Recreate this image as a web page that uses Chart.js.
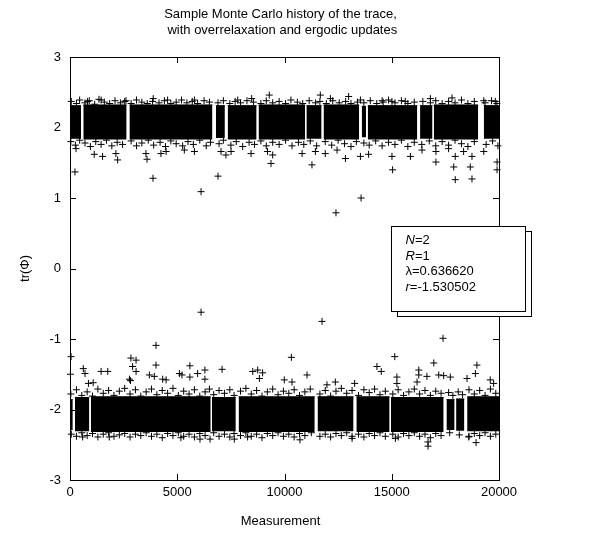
<!DOCTYPE html>
<html>
<head>
<meta charset="utf-8">
<script src="https://cdn.jsdelivr.net/npm/chart.js@4.4.1/dist/chart.umd.min.js"></script>
<style>
  html, body { margin: 0; padding: 0; background: #fff; }
  canvas { display: block; }
</style>
</head>
<body>
<canvas id="trace" width="614" height="536"></canvas>
<script>
// Monte Carlo history of tr(Phi): the chain sits in one of two bands (+2 / -2)
// and hops between them; runs give the dense part of each band, points the rest.

const xTicks = [0, 5000, 10000, 15000, 20000];
const yTicks = [-3, -2, -1, 0, 1, 2, 3];

// [first measurement, last measurement, low, high] of the dense part of each band
const upperRuns = [
    [0, 515, 1.84, 2.31], [620, 2640, 1.83, 2.32], [2770, 6640, 1.83, 2.32],
    [6800, 7220, 1.85, 2.31], [7350, 8700, 1.83, 2.31], [8790, 10960, 1.83, 2.32],
    [11020, 11730, 1.84, 2.31], [11820, 13480, 1.83, 2.32], [13600, 13800, 1.86, 2.30],
    [13880, 16190, 1.83, 2.31], [16320, 16900, 1.84, 2.31], [16960, 19030, 1.83, 2.32],
    [19290, 20000, 1.84, 2.31]
];
const lowerRuns = [
    [0, 130, -2.29, -1.86], [230, 900, -2.31, -1.83], [970, 6560, -2.32, -1.82],
    [6620, 7730, -2.31, -1.83], [7860, 11410, -2.32, -1.82], [11540, 13220, -2.31, -1.82],
    [13350, 14900, -2.32, -1.82], [14960, 17420, -2.32, -1.83], [17550, 17930, -2.29, -1.86],
    [18000, 18385, -2.30, -1.85], [18515, 20000, -2.31, -1.82]
];

// ragged crosses along the edges of the bands
const upperEdge = [
    [60, 2.37], [300, 2.34], [450, 2.39], [700, 2.35], [900, 2.38], [1150, 2.33], [1350, 2.40], [1600, 2.36],
    [1850, 2.34], [2100, 2.38], [2350, 2.35], [2550, 2.37], [2850, 2.34], [3100, 2.39], [3350, 2.36], [3600, 2.34],
    [3850, 2.37], [4150, 2.35], [4400, 2.38], [4700, 2.34], [4950, 2.36], [5200, 2.39], [5450, 2.35], [5700, 2.37],
    [5950, 2.34], [6250, 2.38], [6500, 2.36], [6900, 2.35], [7150, 2.38], [7450, 2.34], [7700, 2.37], [7950, 2.35],
    [8250, 2.38], [8550, 2.36], [8900, 2.34], [9150, 2.38], [9450, 2.35], [9750, 2.37], [10050, 2.34], [10300, 2.39],
    [10600, 2.36], [10850, 2.34], [11150, 2.38], [11450, 2.35], [11650, 2.37], [11950, 2.34], [12250, 2.38],
    [12550, 2.35], [12850, 2.37], [13100, 2.34], [13400, 2.36], [13700, 2.35], [14000, 2.38], [14300, 2.34],
    [14600, 2.36], [14850, 2.39], [15150, 2.35], [15450, 2.38], [15750, 2.34], [16050, 2.36], [16450, 2.37],
    [16800, 2.35], [17050, 2.38], [17350, 2.34], [17650, 2.37], [17950, 2.35], [18250, 2.39], [18550, 2.34],
    [18850, 2.37], [19350, 2.35], [19650, 2.38], [19900, 2.34],
    [40, 1.80], [250, 1.75], [450, 1.82], [700, 1.78], [950, 1.73], [1200, 1.80], [1450, 1.76], [1700, 1.82],
    [1950, 1.74], [2200, 1.79], [2450, 1.76], [2850, 1.81], [3100, 1.74], [3350, 1.78], [3650, 1.82], [3900, 1.75],
    [4200, 1.79], [4450, 1.73], [4700, 1.81], [4950, 1.77], [5250, 1.74], [5500, 1.80], [5750, 1.76], [6050, 1.82],
    [6350, 1.74], [6550, 1.79], [6950, 1.77], [7150, 1.82], [7500, 1.75], [7750, 1.80], [8050, 1.73], [8350, 1.79],
    [8600, 1.76], [8900, 1.81], [9150, 1.74], [9450, 1.79], [9750, 1.76], [10050, 1.82], [10350, 1.74], [10650, 1.79],
    [10900, 1.76], [11200, 1.81], [11500, 1.74], [11900, 1.80], [12200, 1.75], [12500, 1.82], [12800, 1.77],
    [13100, 1.73], [13350, 1.80], [13700, 1.78], [13950, 1.75], [14250, 1.81], [14550, 1.74], [14850, 1.79],
    [15150, 1.76], [15450, 1.82], [15750, 1.73], [16050, 1.79], [16400, 1.76], [16750, 1.81], [17050, 1.74],
    [17350, 1.80], [17650, 1.75], [17950, 1.82], [18250, 1.77], [18550, 1.73], [18850, 1.80], [19400, 1.76],
    [19700, 1.81], [19950, 1.74]
];
const lowerEdge = [
    [40, -1.78], [300, -1.72], [550, -1.80], [800, -1.75], [1050, -1.81], [1300, -1.71], [1550, -1.77], [1800, -1.73],
    [2050, -1.80], [2300, -1.74], [2550, -1.70], [2800, -1.78], [3050, -1.72], [3300, -1.81], [3550, -1.75],
    [3800, -1.71], [4050, -1.79], [4300, -1.73], [4550, -1.77], [4800, -1.70], [5050, -1.80], [5300, -1.74],
    [5550, -1.78], [5800, -1.72], [6050, -1.81], [6300, -1.75], [6500, -1.71], [6700, -1.79], [6950, -1.73],
    [7200, -1.77], [7450, -1.72], [7650, -1.80], [7950, -1.74], [8200, -1.70], [8450, -1.78], [8700, -1.73],
    [8950, -1.81], [9200, -1.75], [9450, -1.71], [9700, -1.79], [9950, -1.74], [10200, -1.77], [10450, -1.72],
    [10700, -1.80], [10950, -1.75], [11200, -1.71], [11650, -1.78], [11900, -1.73], [12150, -1.81], [12400, -1.74],
    [12650, -1.70], [12900, -1.77], [13150, -1.73], [13450, -1.80], [13700, -1.72], [13950, -1.76], [14200, -1.71],
    [14450, -1.79], [14700, -1.74], [15050, -1.78], [15300, -1.72], [15550, -1.80], [15800, -1.75], [16050, -1.71],
    [16300, -1.78], [16550, -1.73], [16800, -1.80], [17050, -1.74], [17300, -1.77], [17650, -1.76], [17850, -1.80],
    [18100, -1.75], [18300, -1.79], [18600, -1.72], [18850, -1.78], [19100, -1.73], [19350, -1.80], [19600, -1.71],
    [19850, -1.77],
    [60, -2.35], [300, -2.38], [550, -2.33], [800, -2.37], [1050, -2.34], [1300, -2.39], [1550, -2.35], [1800, -2.33],
    [2050, -2.38], [2300, -2.36], [2550, -2.34], [2800, -2.39], [3050, -2.35], [3300, -2.37], [3550, -2.33],
    [3800, -2.38], [4050, -2.35], [4300, -2.40], [4550, -2.34], [4800, -2.37], [5050, -2.33], [5300, -2.38],
    [5550, -2.35], [5800, -2.39], [6050, -2.34], [6300, -2.37], [6700, -2.33], [6950, -2.38], [7200, -2.35],
    [7450, -2.39], [7650, -2.34], [7950, -2.37], [8200, -2.33], [8450, -2.38], [8700, -2.35], [8950, -2.40],
    [9200, -2.34], [9450, -2.37], [9700, -2.33], [9950, -2.38], [10200, -2.35], [10450, -2.39], [10700, -2.34],
    [10950, -2.37], [11250, -2.33], [11650, -2.38], [11900, -2.35], [12150, -2.39], [12400, -2.34], [12650, -2.37],
    [12900, -2.33], [13150, -2.38], [13450, -2.35], [13700, -2.39], [13950, -2.34], [14200, -2.37], [14450, -2.33],
    [14700, -2.38], [15050, -2.35], [15300, -2.39], [15550, -2.34], [15800, -2.37], [16050, -2.33], [16300, -2.38],
    [16550, -2.35], [16800, -2.40], [17050, -2.34], [17300, -2.37], [17700, -2.33], [18150, -2.36], [18600, -2.38],
    [18850, -2.34], [19100, -2.37], [19350, -2.33], [19600, -2.38], [19850, -2.35]
];

// isolated measurements away from the dense bands
const strays = [
    // mid-range tunnelling events
    [233, 1.37], [3870, 1.28], [6110, 1.09], [6900, 1.31], [12400, 0.79], [13570, 1.00],
    [6110, -0.62], [11750, -0.75], [17390, -0.99], [4010, -1.09], [50, -1.25],
    // above the upper band
    [820, 2.37], [1450, 2.39], [2610, 2.38], [3880, 2.41], [4550, 2.39], [5800, 2.39], [7820, 2.39],
    [8470, 2.41], [9290, 2.46], [11670, 2.46], [12140, 2.41], [12990, 2.44], [13540, 2.39], [14550, 2.38],
    [15010, 2.37], [15630, 2.37], [16800, 2.41], [17810, 2.42], [19290, 2.38], [19830, 2.37],
    // below the upper band
    [280, 1.70], [1130, 1.62], [1520, 1.59], [2140, 1.63], [2220, 1.54], [3540, 1.63], [3590, 1.55],
    [4240, 1.63], [4480, 1.66], [5330, 1.68], [5800, 1.66], [7040, 1.66], [7270, 1.61], [7510, 1.66],
    [8440, 1.63], [9210, 1.66], [9370, 1.49], [9450, 1.61], [10820, 1.63], [11280, 1.47], [11440, 1.66],
    [11900, 1.63], [12450, 1.68], [12840, 1.56], [13540, 1.59], [13920, 1.62], [15010, 1.59], [15040, 1.40],
    [15870, 1.59], [16410, 1.68], [17060, 1.66], [17060, 1.51], [17650, 1.70], [17960, 1.59], [17890, 1.44],
    [17960, 1.26], [18350, 1.66], [18740, 1.59], [18660, 1.44], [18740, 1.27], [19290, 1.66], [19910, 1.51],
    [19910, 1.40],
    // above the lower band
    [20, -1.50], [620, -1.42], [700, -1.49], [860, -1.63], [1080, -1.62], [1450, -1.46], [1760, -1.46],
    [2840, -1.27], [3080, -1.30], [2920, -1.39], [3080, -1.46], [2770, -1.57], [2820, -1.59], [4010, -1.37],
    [3700, -1.51], [3930, -1.53], [4320, -1.57], [4480, -1.58], [5100, -1.49], [5220, -1.51], [5590, -1.38],
    [5590, -1.54], [5950, -1.49], [6290, -1.44], [6290, -1.57], [7090, -1.43], [8520, -1.46], [8750, -1.44],
    [8980, -1.48], [8830, -1.56], [9990, -1.58], [10320, -1.26], [11050, -1.51], [10350, -1.61],
    [12370, -1.61], [11980, -1.65], [13270, -1.63], [14310, -1.39], [14510, -1.46], [15140, -1.25],
    [15240, -1.54], [15240, -1.63], [16260, -1.44], [16260, -1.51], [16180, -1.61], [16640, -1.53],
    [16960, -1.34], [17190, -1.51], [17420, -1.52], [17730, -1.54], [18510, -1.56], [18900, -1.49],
    [18970, -1.37], [19590, -1.58], [19750, -1.63],
    // below the lower band
    [590, -2.39], [1830, -2.39], [5170, -2.40], [6060, -2.42], [6530, -2.42], [7660, -2.42], [8280, -2.39],
    [10720, -2.43], [13150, -2.41], [15170, -2.41], [16690, -2.46], [16690, -2.52], [18590, -2.39],
    [18930, -2.47]
];

const FONT = "'Liberation Sans', Arial, Helvetica, sans-serif";

function runDataset(run) {
    const [first, last, low, high] = run;
    return {
        type: 'line',
        data: [{ x: first, y: high }, { x: last, y: high }],
        fill: { value: low },
        backgroundColor: '#000',
        borderColor: '#000',
        borderWidth: 1,
        pointRadius: 0,
        tension: 0
    };
}

const crossPoints = upperEdge.concat(lowerEdge, strays).map(p => ({ x: p[0], y: p[1] }));

const datasets = upperRuns.map(runDataset).concat(lowerRuns.map(runDataset));
datasets.push({
    type: 'scatter',
    data: crossPoints,
    pointStyle: 'cross',
    pointRadius: 3.5,
    borderColor: '#000',
    backgroundColor: '#000',
    borderWidth: 1,
    clip: 4
});

// frame, mirrored inward ticks, titles and the parameter box
const framePlugin = {
    id: 'framePlugin',
    afterDraw(chart) {
        const { ctx, chartArea: a, scales: { x, y } } = chart;
        ctx.save();
        ctx.strokeStyle = '#000';
        ctx.lineWidth = 1;
        ctx.strokeRect(a.left + 0.5, a.top + 0.5, a.right - a.left, a.bottom - a.top);

        const tl = 6;
        ctx.beginPath();
        xTicks.forEach(v => {
            const px = Math.round(x.getPixelForValue(v)) + 0.5;
            ctx.moveTo(px, a.bottom); ctx.lineTo(px, a.bottom - tl);
            ctx.moveTo(px, a.top); ctx.lineTo(px, a.top + tl);
        });
        yTicks.forEach(v => {
            const py = Math.round(y.getPixelForValue(v)) + 0.5;
            ctx.moveTo(a.left, py); ctx.lineTo(a.left + tl, py);
            ctx.moveTo(a.right, py); ctx.lineTo(a.right - tl, py);
        });
        ctx.stroke();

        ctx.fillStyle = '#000';
        ctx.font = '13px ' + FONT;
        ctx.textAlign = 'center';
        ctx.textBaseline = 'middle';
        const cx = (a.left + a.right) / 2 - 4;
        ctx.fillText('Sample Monte Carlo history of the trace,', cx, 14);
        ctx.fillText(' with overrelaxation and ergodic updates', cx, 30);
        ctx.fillText('Measurement', cx, 521);

        ctx.save();
        ctx.translate(25, (a.top + a.bottom) / 2);
        ctx.rotate(-Math.PI / 2);
        ctx.fillText('tr(\u03A6)', 0, 0);
        ctx.restore();

        // parameter box with its offset shadow
        const bx = Math.round(x.getPixelForValue(15000)) - 0.5;
        const by = Math.round(y.getPixelForValue(0.6)) + 0.5;
        const bw = 134, bh = 85;
        ctx.fillStyle = '#fff';
        ctx.fillRect(bx + 6, by + 5, bw, bh);
        ctx.strokeRect(bx + 6, by + 5, bw, bh);
        ctx.fillRect(bx, by, bw, bh);
        ctx.strokeRect(bx, by, bw, bh);

        const lines = [['N', '=2'], ['R', '=1'], ['', '\u03BB=0.636620'], ['r', '=-1.530502']];
        ctx.fillStyle = '#000';
        ctx.textAlign = 'left';
        lines.forEach((parts, i) => {
            const ty = by + 14 + i * 15.6;
            let tx = bx + 14;
            ctx.font = 'italic 13px ' + FONT;
            ctx.fillText(parts[0], tx, ty);
            tx += ctx.measureText(parts[0]).width;
            ctx.font = '13px ' + FONT;
            ctx.fillText(parts[1], tx, ty);
        });
        ctx.restore();
    }
};

new Chart(document.getElementById('trace'), {
    type: 'scatter',
    data: { datasets: datasets },
    options: {
        responsive: false,
        animation: false,
        devicePixelRatio: 1,
        layout: { padding: { top: 57, right: 115, bottom: 0, left: 0 } },
        plugins: {
            legend: { display: false },
            tooltip: { enabled: false },
            title: { display: false }
        },
        scales: {
            x: {
                type: 'linear',
                min: 0,
                max: 20000,
                afterFit: s => { s.height = 56; },
                afterBuildTicks: s => { s.ticks = xTicks.map(v => ({ value: v })); },
                grid: { display: false, drawTicks: false },
                border: { display: false },
                ticks: {
                    color: '#000',
                    padding: 5,
                    maxRotation: 0,
                    autoSkip: false,
                    font: { family: FONT, size: 13 },
                    callback: v => String(v)
                }
            },
            y: {
                type: 'linear',
                min: -3,
                max: 3,
                afterFit: s => { s.width = 70; },
                afterBuildTicks: s => { s.ticks = yTicks.map(v => ({ value: v })); },
                grid: { display: false, drawTicks: false },
                border: { display: false },
                ticks: {
                    color: '#000',
                    padding: 9,
                    autoSkip: false,
                    font: { family: FONT, size: 13 },
                    callback: v => String(v)
                }
            }
        }
    },
    plugins: [framePlugin]
});
</script>
</body>
</html>
